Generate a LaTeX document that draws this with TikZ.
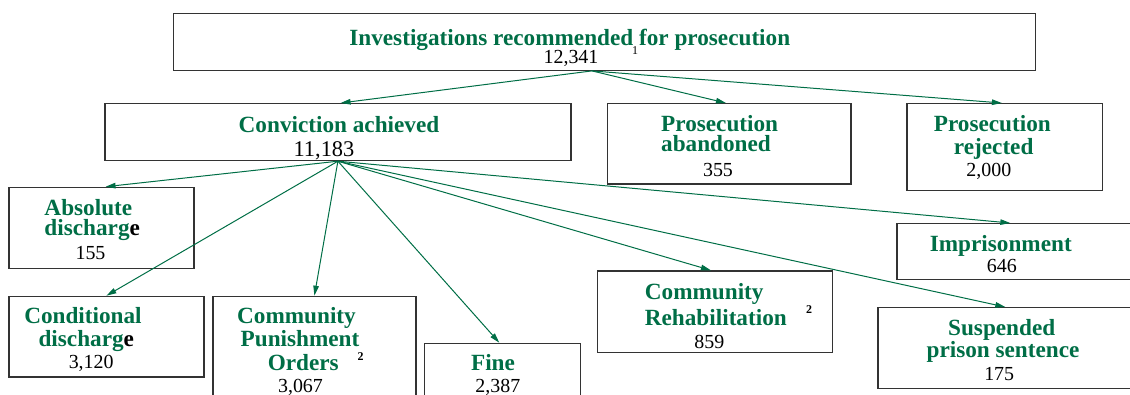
\documentclass[tikz,border=0pt]{standalone}
\usepackage{fontspec}
\setmainfont{Liberation Serif}
\usepackage{tikz}
\usetikzlibrary{arrows.meta, calc}
\definecolor{ukgreen}{RGB}{0,110,70}

\begin{document}
\begin{tikzpicture}[
    x=1bp, y=-1bp,
    box/.style={draw=black!80, line width=1.2bp, inner sep=0pt, anchor=north west},
    ttl/.style={font=\fontsize{23.3}{23.3}\selectfont\bfseries, text=ukgreen, inner sep=0pt, anchor=base},
    num/.style={font=\fontsize{20}{20}\selectfont, inner sep=0pt, anchor=base},
    sup/.style={font=\fontsize{12}{12}\selectfont, inner sep=0pt, anchor=base},
    arr/.style={-{Triangle[length=10bp, width=5.5bp]}, line width=1bp, ukgreen},
]
\useasboundingbox (0,0) rectangle (1130,394);

% boxes
\node[box, minimum width=862.3bp, minimum height=57bp] (inv) at (172.7,12.7) {};
\node[box, minimum width=466bp, minimum height=57bp] (conv) at (104.3,103) {};
\node[box, minimum width=243.3bp, minimum height=80.3bp] (aband) at (607,103) {};
\node[box, minimum width=195.4bp, minimum height=87bp] (rej) at (906.3,103) {};
\node[box, minimum width=185bp, minimum height=81.3bp] (absd) at (8.3,186.7) {};
\node[box, minimum width=240bp, minimum height=56bp] (impr) at (896.3,223) {};
\node[box, minimum width=195bp, minimum height=80.6bp] (cond) at (8.3,295.7) {};
\node[box, minimum width=203bp, minimum height=130bp] (cpo) at (212.3,295.7) {};
\node[box, minimum width=156bp, minimum height=90bp] (fine) at (423.7,342.7) {};
\node[box, minimum width=235bp, minimum height=81.7bp] (rehab) at (597,270.3) {};
\node[box, minimum width=260bp, minimum height=80.7bp] (susp) at (877.3,307) {};

% Investigations
\node[ttl] (invT) at (569.8,45) {Investigations recommended for prosecution};
\node[num] (invN) at (571,63.3) {12,341};
\node[sup] (invS) at (635,54) {1};

% Conviction
\node[ttl] (convT) at (339,132.3) {Conviction achieved};
\node[num, font=\fontsize{22.5}{22.5}\selectfont] (convN) at (324,156.7) {11,183};

% Prosecution abandoned
\node[ttl, anchor=base west] (abandT1) at (661,131.7) {Prosecution};
\node[ttl, anchor=base west] (abandT2) at (661,151.7) {abandoned};
\node[num] (abandN) at (718,176) {355};

% Prosecution rejected
\node[ttl] (rejT1) at (992.3,131.7) {Prosecution};
\node[ttl] (rejT2) at (993.7,154) {rejected};
\node[num] (rejN) at (988.8,176.7) {2,000};

% Absolute discharge
\node[ttl, anchor=base west] (absdT1) at (44.3,215.3) {Absolute};
\node[ttl, anchor=base west] (absdT2) at (44.3,235.3) {discharg\textcolor{black}{e}};
\node[num] (absdN) at (90.5,259.7) {155};

% Imprisonment
\node[ttl] (imprT) at (1000.8,251.3) {Imprisonment};
\node[num] (imprN) at (1001.8,272) {646};

% Conditional discharge
\node[ttl] (condT1) at (83,323) {Conditional};
\node[ttl] (condT2) at (86.3,346) {discharg\textcolor{black}{e}};
\node[num] (condN) at (91.2,368) {3,120};

% Community Punishment Orders
\node[ttl] (cpoT1) at (296.5,323) {Community};
\node[ttl] (cpoT2) at (300,346) {Punishment};
\node[ttl] (cpoT3) at (303.3,370.3) {Orders};
\node[sup, font=\fontsize{12}{12}\selectfont\bfseries] (cpoS) at (360.5,360) {2};
\node[num] (cpoN) at (300.5,392) {3,067};

% Fine
\node[ttl] (fineT) at (493,370.3) {Fine};
\node[num] (fineN) at (497.8,392) {2,387};

% Community Rehabilitation
\node[ttl, anchor=base west] (rehabT1) at (644.7,299.7) {Community};
\node[ttl, anchor=base west] (rehabT2) at (644.7,325.3) {Rehabilitation};
\node[sup, font=\fontsize{12}{12}\selectfont\bfseries] (rehabS) at (809,313) {2};
\node[num] (rehabN) at (709.3,348.7) {859};

% Suspended prison sentence
\node[ttl] (suspT1) at (1001.7,335.3) {Suspended};
\node[ttl] (suspT2) at (1003,357.7) {prison sentence};
\node[num] (suspN) at (999.2,380.3) {175};

% arrows
\draw[arr] ([xshift=-12.5bp]inv.south) -- ([xshift=2.7bp]conv.north);
\draw[arr] ([xshift=-12.5bp]inv.south) -- ([xshift=-3.3bp]aband.north);
\draw[arr] ([xshift=-12.5bp]inv.south) -- ([xshift=-2.7bp]rej.north);
\draw[arr] (conv.south) -- ([xshift=4.2bp]absd.north);
\draw[arr] (conv.south) -- (cond.north);
\draw[arr] (conv.south) -- (cpo.north);
\draw[arr] (conv.south) -- ([xshift=-3bp]fine.north);
\draw[arr] (conv.south) -- ([xshift=-4.2bp]rehab.north);
\draw[arr] (conv.south) -- ([xshift=-6.6bp]impr.north);
\draw[arr] (conv.south) -- ([xshift=-2.6bp]susp.north);

\end{tikzpicture}
\end{document}
